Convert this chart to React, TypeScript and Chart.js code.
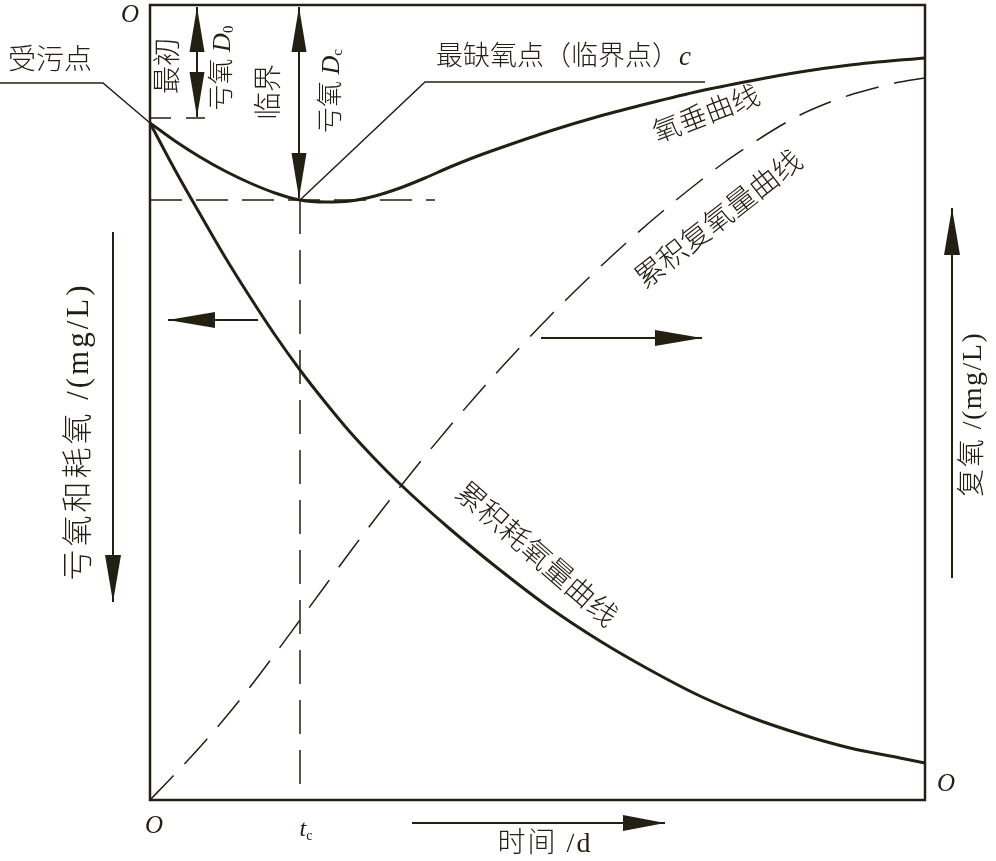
import React, { useEffect, useRef } from "react";
import { Chart, registerables } from "chart.js";

Chart.register(...registerables);

const INK = "#231f12";
const SERIF = '"Liberation Serif"';
const MIX = '"Liberation Serif", "Noto Sans CJK SC"';

// axes ranges (time in d, oxygen in mg/L)
const timeMax = 15.5;
const oxygenMax = 15.9;

// oxygen sag curve (deficit, left axis, measured downward)
const sagDays = [0, 0.5, 1, 1.5, 2, 2.5, 3, 3.5, 4, 4.5, 5, 5.5, 6, 6.5, 7, 8, 9, 10, 11, 12, 13, 14, 15, 15.5];
const sagDeficit = [2.36, 2.72, 3.04, 3.32, 3.56, 3.76, 3.9, 3.94, 3.92, 3.82, 3.66, 3.46, 3.24, 3.04, 2.86, 2.52, 2.22, 1.96, 1.72, 1.52, 1.34, 1.2, 1.1, 1.06];

// cumulative oxygen consumption (left axis)
const consumptionDays = [0, 0.5, 1, 1.5, 2, 2.5, 3, 3.5, 4, 4.5, 5, 6, 7, 8, 9, 10, 11, 12, 13, 14, 15, 15.5];
const consumptionDeficit = [2.36, 3.3, 4.18, 5.04, 5.84, 6.6, 7.3, 7.94, 8.54, 9.08, 9.58, 10.48, 11.3, 12.06, 12.72, 13.3, 13.82, 14.24, 14.58, 14.86, 15.06, 15.16];

// cumulative reaeration (right axis, measured upward)
const reaerationDays = [0, 0.5, 1, 1.5, 2, 2.5, 3, 3.5, 4, 4.5, 5, 5.5, 6, 6.5, 7, 7.5, 8, 8.5, 9, 9.5, 10, 10.5, 11, 11.5, 12, 12.5, 13, 13.5, 14, 14.5, 15, 15.5];
const reaerationAmount = [0, 0.52, 1.06, 1.64, 2.26, 2.92, 3.6, 4.28, 4.96, 5.62, 6.26, 6.88, 7.48, 8.06, 8.62, 9.16, 9.68, 10.18, 10.66, 11.12, 11.56, 11.98, 12.38, 12.76, 13.1, 13.42, 13.7, 13.92, 14.1, 14.24, 14.36, 14.44];

// key points
const criticalTime = 3;
const criticalDeficit = 3.9;
const initialDeficit = 2.26;
const criticalGuideEnd = 5.7;
const initialGuideEnd = 1.1;

type Part = { t: string; font: string; dy?: number; ls?: number };

function partWidth(ctx: CanvasRenderingContext2D, p: Part) {
  ctx.font = p.font;
  if (!p.ls) return ctx.measureText(p.t).width;
  let w = 0;
  for (const ch of Array.from(p.t)) w += ctx.measureText(ch).width + p.ls;
  return w - p.ls;
}

function rich(ctx: CanvasRenderingContext2D, x: number, y: number, angle: number, parts: Part[], align: "left" | "center" | "right" = "center") {
  ctx.save();
  ctx.translate(x, y);
  ctx.rotate(angle);
  ctx.textBaseline = "middle";
  ctx.textAlign = "left";
  let w = 0;
  for (const p of parts) w += partWidth(ctx, p);
  let cx = align === "center" ? -w / 2 : align === "right" ? -w : 0;
  for (const p of parts) {
    ctx.font = p.font;
    if (!p.ls) {
      ctx.fillText(p.t, cx, p.dy ?? 0);
      cx += ctx.measureText(p.t).width;
    } else {
      for (const ch of Array.from(p.t)) {
        ctx.fillText(ch, cx, p.dy ?? 0);
        cx += ctx.measureText(ch).width + p.ls;
      }
    }
  }
  ctx.restore();
}

function head(ctx: CanvasRenderingContext2D, tx: number, ty: number, ux: number, uy: number, len: number, half: number) {
  const bx = tx - ux * len;
  const by = ty - uy * len;
  const px = -uy;
  const py = ux;
  ctx.beginPath();
  ctx.moveTo(tx, ty);
  ctx.lineTo(bx + px * half, by + py * half);
  ctx.lineTo(bx - px * half, by - py * half);
  ctx.closePath();
  ctx.fill();
}

function arrow(ctx: CanvasRenderingContext2D, x1: number, y1: number, x2: number, y2: number, both = false, len = 45, half = 7.5) {
  const d = Math.hypot(x2 - x1, y2 - y1);
  const ux = (x2 - x1) / d;
  const uy = (y2 - y1) / d;
  ctx.lineWidth = 2;
  ctx.beginPath();
  ctx.moveTo(x1, y1);
  ctx.lineTo(x2, y2);
  ctx.stroke();
  head(ctx, x2, y2, ux, uy, len, half);
  if (both) head(ctx, x1, y1, -ux, -uy, len, half);
}

function poly(ctx: CanvasRenderingContext2D, pts: number[][], w = 1.5) {
  ctx.lineWidth = w;
  ctx.beginPath();
  ctx.moveTo(pts[0][0], pts[0][1]);
  for (let i = 1; i < pts.length; i++) ctx.lineTo(pts[i][0], pts[i][1]);
  ctx.stroke();
}

const annotations = {
  id: "annotations",
  afterDraw(chart: any) {
    const ctx: CanvasRenderingContext2D = chart.ctx;
    const { left, right, top, bottom } = chart.chartArea;
    const xs = chart.scales.x;
    const yl = chart.scales.yL;
    ctx.save();
    ctx.strokeStyle = INK;
    ctx.fillStyle = INK;
    ctx.setLineDash([]);

    // frame
    ctx.lineWidth = 2.5;
    ctx.strokeRect(left, top, right - left, bottom - top);

    const tcX = xs.getPixelForValue(criticalTime);
    const dcY = yl.getPixelForValue(criticalDeficit);
    const d0Y = yl.getPixelForValue(initialDeficit);
    const zeroY = yl.getPixelForValue(0);

    // D0 and Dc double arrows
    arrow(ctx, left + 47, zeroY + 2, left + 47, d0Y - 1, true);
    arrow(ctx, tcX - 1, zeroY + 2, tcX - 1, dcY - 2, true);

    // direction arrows
    arrow(ctx, 258, 320, 168, 320, false, 47, 8);
    arrow(ctx, 541, 338, 702, 338, false, 47, 8);
    arrow(ctx, 412, 823, 665, 823, false, 42, 8);
    arrow(ctx, 113, 232, 113, 602, false, 47, 8);
    arrow(ctx, 952, 578, 952, 208, false, 47, 8);

    // leader lines
    const startY = yl.getPixelForValue(sagDeficit[0]);
    poly(ctx, [[0, 83], [103, 83], [left, startY]]);
    poly(ctx, [[tcX, dcY], [425, 82], [705, 82]]);

    // texts
    ctx.fillStyle = INK;
    const it = (s: number) => `italic ${s}px ${SERIF}`;
    const cj = (s: number) => `300 ${s}px ${MIX}`;
    const sr = (s: number) => `${s}px ${SERIF}`;

    rich(ctx, 130, 15, 0, [{ t: "O", font: it(25) }]);
    rich(ctx, 154, 826, 0, [{ t: "O", font: it(25) }]);
    rich(ctx, 946, 784, 0, [{ t: "O", font: it(25) }]);
    rich(ctx, tcX + 6, 830, 0, [{ t: "t", font: it(24) }, { t: "c", font: sr(14), dy: 6 }]);
    rich(ctx, 544, 845, 0, [{ t: "时间 /d", font: cj(28), ls: 2 }]);

    rich(ctx, 50, 62, 0, [{ t: "受污点", font: cj(28) }]);
    rich(ctx, 436, 58, 0, [{ t: "最缺氧点（临界点）", font: cj(27) }, { t: "c", font: it(27) }], "left");

    const up = -Math.PI / 2;
    rich(ctx, 170, 66, up, [{ t: "最初", font: cj(28) }]);
    rich(ctx, 223, 68, up, [{ t: "亏氧", font: cj(26) }, { t: " D", font: it(26) }, { t: "0", font: sr(15), dy: 6 }]);
    rich(ctx, 271, 92, up, [{ t: "临界", font: cj(28) }]);
    rich(ctx, 332, 91, up, [{ t: "亏氧", font: cj(26) }, { t: " D", font: it(26) }, { t: "c", font: sr(15), dy: 6 }]);

    rich(ctx, 80, 433, up, [{ t: "亏氧和耗氧 /(mg/L)", font: cj(31), ls: 3 }]);
    rich(ctx, 974, 415, up, [{ t: "复氧 /(mg/L)", font: cj(28), ls: 1.5 }]);

    rich(ctx, 707, 116, (-21 * Math.PI) / 180, [{ t: "氧垂曲线", font: cj(28) }]);
    rich(ctx, 720, 221, (-38 * Math.PI) / 180, [{ t: "累积复氧量曲线", font: cj(29) }]);
    rich(ctx, 535, 556, (41 * Math.PI) / 180, [{ t: "累积耗氧量曲线", font: cj(29) }]);

    ctx.restore();
  },
};

const pts = (xs: number[], ys: number[]) => xs.map((x, i) => ({ x, y: ys[i] }));

export default function App() {
  const ref = useRef<HTMLCanvasElement | null>(null);
  useEffect(() => {
    if (!ref.current) return;
    const solid = { borderColor: INK, borderWidth: 3, pointRadius: 0, fill: false, cubicInterpolationMode: "monotone" as const };
    const guide = { borderColor: INK, borderWidth: 1.5, pointRadius: 0, fill: false, tension: 0 };
    const chart = new Chart(ref.current, {
      type: "line",
      data: {
        datasets: [
          { ...solid, label: "氧垂曲线", yAxisID: "yL", data: pts(sagDays, sagDeficit) },
          { ...solid, label: "累积耗氧量曲线", yAxisID: "yL", data: pts(consumptionDays, consumptionDeficit) },
          { ...solid, borderWidth: 1.5, borderDash: [34, 16], label: "累积复氧量曲线", yAxisID: "yR", data: pts(reaerationDays, reaerationAmount) },
          { ...guide, borderDash: [32, 14], label: "Dc", yAxisID: "yL", data: [{ x: 0, y: criticalDeficit }, { x: criticalGuideEnd, y: criticalDeficit }] },
          { ...guide, borderDash: [34, 16], label: "tc", yAxisID: "yL", data: [{ x: criticalTime, y: criticalDeficit }, { x: criticalTime, y: oxygenMax }] },
          { ...guide, borderDash: [21, 15], label: "D0", yAxisID: "yL", data: [{ x: 0, y: initialDeficit }, { x: initialGuideEnd, y: initialDeficit }] },
        ],
      },
      options: {
        responsive: false,
        animation: false,
        layout: { padding: { left: 150, right: 71, top: 5, bottom: 61 } },
        plugins: { legend: { display: false }, tooltip: { enabled: false }, title: { display: false } },
        scales: {
          x: { type: "linear", min: 0, max: timeMax, display: false },
          yL: { type: "linear", min: 0, max: oxygenMax, reverse: true, display: false, position: "left" },
          yR: { type: "linear", min: 0, max: oxygenMax, display: false, position: "right" },
        },
      },
      plugins: [annotations],
    });
    return () => chart.destroy();
  }, []);
  return (
    <div style={{ position: "fixed", left: 0, top: 0, width: 996, height: 861, background: "#fff" }}>
      <canvas ref={ref} width={996} height={861} style={{ display: "block" }} />
    </div>
  );
}
